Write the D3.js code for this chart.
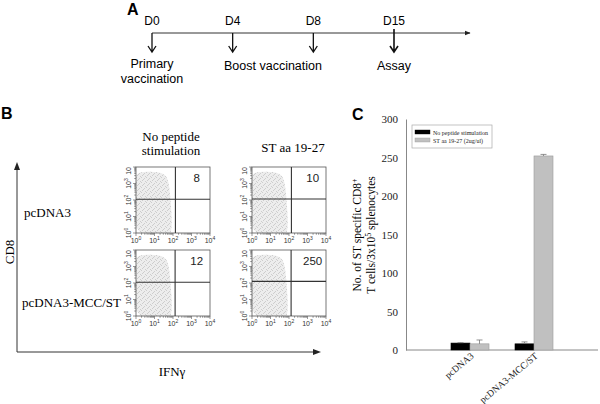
<!DOCTYPE html>
<html>
<head>
<meta charset="utf-8">
<script src="https://cdn.jsdelivr.net/npm/d3@7"></script>
<style>
  body { margin: 0; background: #fff; }
  svg { display: block; }
</style>
</head>
<body>
<div id="fig"></div>
<script>
// ---- panel A: vaccination schedule ----
var days = ["D0", "D4", "D8", "D15"];
var eventText = [["Primary", "vaccination"], ["Boost vaccination"], ["Assay"]];
var eventSpan = [["D0", "D0"], ["D4", "D8"], ["D15", "D15"]];

// ---- panel B: flow cytometry ----
var facsRows = ["pcDNA3", "pcDNA3-MCC/ST"];
var facsCols = [["No peptide", "stimulation"], ["ST  aa 19-27"]];
var facsCounts = [[8, 10], [12, 250]];
var facsTicks = [1, 10, 100, 1000, 10000];
var gateX = [[135, 135], [130, 130]];
var gateY = [[110, 115], [110, 125]];
// outline of the CD8 cell cloud (IFNg, CD8), linear units
var cloudOutline = [[0.5, 0.5], [40, 0.5], [80, 0.8], [88, 4], [80, 30], [70, 200], [60, 1000], [45, 3000], [20, 5000], [3, 5200], [0.5, 4500]];

// ---- panel C: bar chart ----
var groups = ["pcDNA3", "pcDNA3-MCC/ST"];
var series = ["No peptide stimulation", "ST aa 19-27 (2ug/ul)"];
var noPeptide = [9, 8];
var noPeptideErr = [0.5, 2.5];
var stPeptide = [8, 252];
var stPeptideErr = [5, 2];
var yTicks = [0, 50, 100, 150, 200, 250, 300];

var sans = "'Liberation Sans', Arial, sans-serif";
var serif = "'Liberation Serif', 'Times New Roman', serif";

var svg = d3.select("#fig").append("svg")
    .attr("width", 600).attr("height", 404);

var defs = svg.append("defs");
var pat = defs.append("pattern").attr("id", "dots")
    .attr("width", 5).attr("height", 5).attr("patternUnits", "userSpaceOnUse");
pat.append("rect").attr("width", 5).attr("height", 5).attr("fill", "#ededed");
[[0, 0], [3, 1], [1, 3], [4, 4], [2, 2]].forEach(function(p) {
    pat.append("rect").attr("x", p[0]).attr("y", p[1]).attr("width", 1).attr("height", 1).attr("fill", "#cdcdcd");
});
defs.append("marker").attr("id", "tri")
    .attr("viewBox", "0 0 10 10").attr("refX", 9).attr("refY", 5)
    .attr("markerWidth", 6).attr("markerHeight", 6).attr("orient", "auto")
    .append("path").attr("d", "M0,1L10,5L0,9Z").attr("fill", "#222");

function panelLetter(x, y, s) {
    svg.append("text").attr("x", x).attr("y", y).text(s)
        .style("font-family", sans).style("font-weight", "bold").style("font-size", "16px");
}

// ================= A =================
panelLetter(127, 15, "A");
var dayX = d3.scalePoint().domain(days).range([152, 394]);
var gA = svg.append("g");
gA.append("line")
    .attr("x1", dayX("D0")).attr("x2", 470).attr("y1", 33).attr("y2", 33)
    .attr("stroke", "#333").attr("stroke-width", 1).attr("marker-end", "url(#tri)");

gA.selectAll(".day").data(days).enter().append("text")
    .attr("x", d => dayX(d)).attr("y", 25)
    .attr("text-anchor", "middle")
    .style("font-family", sans).style("font-size", "12px")
    .text(d => d);

gA.selectAll(".arr").data(days).enter().append("path")
    .attr("d", function(d) {
        var x = dayX(d), y0 = d === "D15" ? 29 : 33, y1 = 52;
        return "M" + x + "," + y0 + "V" + y1 + "M" + (x - 4) + "," + (y1 - 6) + "L" + x + "," + y1 + "L" + (x + 4) + "," + (y1 - 6);
    })
    .attr("fill", "none").attr("stroke", "#111").attr("stroke-width", d => d === "D15" ? 1.6 : 1.3);

eventText.forEach(function(lines, i) {
    var cx = (dayX(eventSpan[i][0]) + dayX(eventSpan[i][1])) / 2;
    var t = gA.append("text").attr("text-anchor", "middle")
        .style("font-family", sans).style("font-size", "12.5px");
    lines.forEach(function(l, j) {
        t.append("tspan").attr("x", cx).attr("y", (lines.length > 1 ? 68 : 70) + j * 15).text(l);
    });
});

// ================= B =================
panelLetter(1, 119, "B");
var gB = svg.append("g");
gB.append("path").attr("d", "M17,165V352H318")
    .attr("fill", "none").attr("stroke", "#333").attr("stroke-width", 1);
gB.append("path").attr("d", "M14,170L17,162L20,170Z").attr("fill", "#222");
gB.append("path").attr("d", "M313,349L321,352L313,355Z").attr("fill", "#222");
gB.append("text").attr("transform", "translate(14,252) rotate(-90)")
    .attr("text-anchor", "middle").style("font-family", serif).style("font-size", "13px").text("CD8");
gB.append("text").attr("x", 172).attr("y", 376)
    .attr("text-anchor", "middle").style("font-family", serif).style("font-size", "13px").text("IFNγ");

var facsX0 = [136, 252], facsY0 = [167, 250], facsW = 74, facsH = 66;
var logX = d3.scaleLog().domain([1, 1e4]).range([0, facsW]);
var logY = d3.scaleLog().domain([1, 1e4]).range([facsH, 0]);
var cloudLine = d3.line().x(d => logX(d[0])).y(d => logY(d[1])).curve(d3.curveBasisClosed);

defs.append("clipPath").attr("id", "facsClip")
    .append("rect").attr("width", facsW).attr("height", facsH);

facsCols.forEach(function(lines, c) {
    var t = gB.append("text").attr("text-anchor", "middle")
        .style("font-family", serif).style("font-size", "13px");
    lines.forEach(function(l, j) {
        t.append("tspan").attr("x", facsX0[c] + facsW / 2 + (c ? 4 : -2))
            .attr("y", (lines.length > 1 ? 141 : 152) + j * 14).text(l);
    });
});
facsRows.forEach(function(r, i) {
    gB.append("text").attr("x", i ? 22 : 24).attr("y", i ? 307 : 217)
        .style("font-family", serif).style("font-size", "13px").text(r);
});

function powLabel(sel, v) {
    var k = Math.round(Math.log10(v));
    sel.append("tspan").text("10");
    sel.append("tspan").attr("dy", -3).style("font-size", "5px").text(k);
}

facsRows.forEach(function(r, i) {
    facsCols.forEach(function(col, c) {
        var g = gB.append("g").attr("transform", "translate(" + facsX0[c] + "," + facsY0[i] + ")");
        g.append("path").attr("d", cloudLine(cloudOutline)).attr("fill", "url(#dots)")
            .attr("clip-path", "url(#facsClip)");
        g.append("rect").attr("width", facsW).attr("height", facsH)
            .attr("fill", "none").attr("stroke", "#555").attr("stroke-width", 0.8);
        g.append("line").attr("x1", logX(gateX[i][c])).attr("x2", logX(gateX[i][c]))
            .attr("y1", 0).attr("y2", facsH).attr("stroke", "#333").attr("stroke-width", 1.1);
        g.append("line").attr("x1", 0).attr("x2", facsW)
            .attr("y1", logY(gateY[i][c])).attr("y2", logY(gateY[i][c])).attr("stroke", "#333").attr("stroke-width", 1.1);
        g.append("text").attr("x", facsW * 0.82).attr("y", 15).attr("text-anchor", "middle")
            .style("font-family", sans).style("font-size", "11.5px").attr("fill", "#222")
            .text(facsCounts[i][c]);

        // log ticks, bottom and left
        logX.ticks().forEach(function(v) {
            var major = facsTicks.indexOf(v) >= 0;
            g.append("line").attr("x1", logX(v)).attr("x2", logX(v))
                .attr("y1", facsH).attr("y2", facsH + (major ? 3 : 1.8)).attr("stroke", "#555").attr("stroke-width", 0.6);
            g.append("line").attr("y1", logY(v)).attr("y2", logY(v))
                .attr("x1", 0).attr("x2", -(major ? 3 : 1.8)).attr("stroke", "#555").attr("stroke-width", 0.6);
        });
        facsTicks.forEach(function(v) {
            var t = g.append("text").attr("x", logX(v)).attr("y", facsH + 10)
                .attr("text-anchor", "middle").style("font-family", sans).style("font-size", "7px").attr("fill", "#333");
            powLabel(t, v);
            var tl = g.append("text").attr("transform", "translate(-5," + logY(v) + ") rotate(-90)")
                .attr("text-anchor", v === 1e4 ? "end" : "middle")
                .style("font-family", sans).style("font-size", "7px").attr("fill", "#333");
            if (v === 1e4) tl.text("10"); else powLabel(tl, v);
        });
    });
});

// ================= C =================
panelLetter(352, 120, "C");
var gC = svg.append("g");
var yC = d3.scaleLinear().domain([0, 300]).range([350, 119]);
var xC = d3.scalePoint().domain(groups).range([406, 598]).padding(1);
var xSub = d3.scaleBand().domain(series).range([-19, 19]);

var yAxis = gC.append("g").attr("transform", "translate(406,0)")
    .call(d3.axisLeft(yC).tickValues(yTicks).tickSize(0).tickPadding(8));
yAxis.select(".domain").attr("stroke", "#888");
yAxis.selectAll("text").style("font-family", serif).style("font-size", "11px").attr("fill", "#222");

var xAxis = gC.append("g").attr("transform", "translate(0,350)")
    .call(d3.axisBottom(xC).tickSize(0).tickSizeOuter(0).tickPadding(0));
xAxis.select(".domain").attr("stroke", "#888").attr("d", "M406,0H598");
xAxis.selectAll("text")
    .attr("text-anchor", "end").attr("y", 0).attr("dy", 0)
    .attr("transform", "translate(4,7) rotate(-40)")
    .style("font-family", serif).style("font-size", "9.5px").attr("fill", "#222");

var barData = [];
groups.forEach(function(g, i) {
    barData.push({ g: g, s: series[0], v: noPeptide[i], e: noPeptideErr[i] });
    barData.push({ g: g, s: series[1], v: stPeptide[i], e: stPeptideErr[i] });
});
var barFill = d3.scaleOrdinal().domain(series).range(["#000", "#c0c0c0"]);
var barStroke = d3.scaleOrdinal().domain(series).range(["#000", "#9a9a9a"]);

gC.selectAll(".bar").data(barData).enter().append("rect")
    .attr("x", d => xC(d.g) + xSub(d.s))
    .attr("width", xSub.bandwidth())
    .attr("y", d => yC(d.v))
    .attr("height", d => yC(0) - yC(d.v))
    .attr("fill", d => barFill(d.s))
    .attr("stroke", d => barStroke(d.s)).attr("stroke-width", 0.6);

gC.selectAll(".err").data(barData).enter().append("path")
    .attr("d", function(d) {
        var cx = xC(d.g) + xSub(d.s) + xSub.bandwidth() / 2;
        return "M" + cx + "," + yC(d.v) + "V" + yC(d.v + d.e) + "M" + (cx - 3) + "," + yC(d.v + d.e) + "H" + (cx + 3);
    })
    .attr("fill", "none").attr("stroke", "#777").attr("stroke-width", 0.8);

// y title
var yt = gC.append("text").attr("transform", "translate(361,235) rotate(-90)")
    .attr("text-anchor", "middle").style("font-family", serif).style("font-size", "11.5px");
yt.append("tspan").text("No. of ST specific CD8");
yt.append("tspan").attr("dy", -4).style("font-size", "8px").text("+");
var yt2 = gC.append("text").attr("transform", "translate(375,235) rotate(-90)")
    .attr("text-anchor", "middle").style("font-family", serif).style("font-size", "11.5px");
yt2.append("tspan").text("T cells/3x10");
yt2.append("tspan").attr("dy", -4).style("font-size", "8px").text("5");
yt2.append("tspan").attr("dy", 4).text(" splenocytes");

// legend
var lg = gC.append("g").attr("transform", "translate(412,125)");
lg.append("rect").attr("width", 80).attr("height", 23)
    .attr("fill", "#fff").attr("stroke", "#aaa").attr("stroke-width", 0.7);
series.forEach(function(s, i) {
    lg.append("rect").attr("x", 3).attr("y", 5 + i * 8).attr("width", 15).attr("height", 4)
        .attr("fill", barFill(s)).attr("stroke", barStroke(s)).attr("stroke-width", 0.4);
    lg.append("text").attr("x", 21).attr("y", 9.5 + i * 8)
        .style("font-family", serif).style("font-size", "6px").attr("fill", "#222").text(s);
});
</script>
</body>
</html>
